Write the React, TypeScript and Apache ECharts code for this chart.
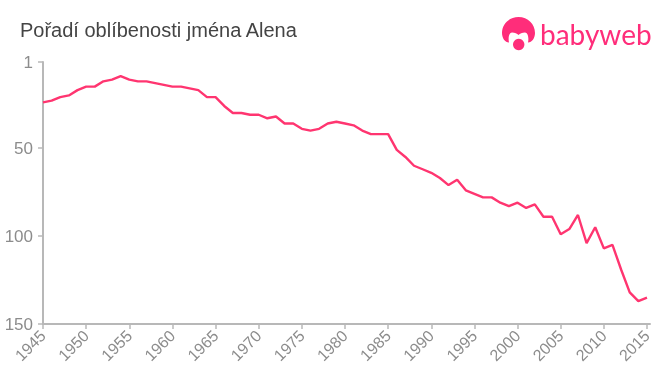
import React, { useEffect, useRef } from "react";
import * as echarts from "echarts";

const years = Array.from({ length: 71 }, (_, i) => String(1945 + i));
const ranks = [
  24, 23, 21, 20, 17, 15, 15, 12, 11, 9,
  11, 12, 12, 13, 14, 15, 15, 16, 17, 21,
  21, 26, 30, 30, 31, 31, 33, 32, 36, 36,
  39, 40, 39, 36, 35, 36, 37, 40, 42, 42,
  42, 51, 55, 60, 62, 64, 67, 71, 68, 74,
  76, 78, 78, 81, 83, 81, 84, 82, 89, 89,
  99, 96, 88, 104, 95, 107, 105, 119, 132, 137,
  135,
];
const yTicks = [1, 50, 100, 150];
const xTicks = [1945, 1950, 1955, 1960, 1965, 1970, 1975, 1980, 1985, 1990, 1995, 2000, 2005, 2010, 2015];
const titleText = "Pořadí oblíbenosti jména Alena";
const logoText = "babyweb";

const headPath =
  "M509 42.5 C505 42.5 502 38 502 33 C502 24 509 17 518.5 17 C528 17 535 24 535 33 C535 38 532 42.5 528 42.5 C529 38 528 32.5 525 32.5 C522 32.5 520 33.5 518.5 35 C517 33.5 515 32.5 512 32.5 C509 32.5 508 38 509 42.5 Z";

export default function App() {
  const ref = useRef<HTMLDivElement>(null);
  useEffect(() => {
    if (!ref.current) return;
    echarts.graphic.registerShape("babyHead", echarts.graphic.extendPath(headPath, {}) as any);
    const chart = echarts.init(ref.current, undefined, { renderer: "svg" });
    const axisColor = "#b8b8b8";
    const labelColor = "#8c8c8c";
    chart.setOption({
      animation: false,
      title: {
        text: titleText,
        left: 20,
        top: 20,
        padding: 0,
        textStyle: { fontFamily: "Liberation Sans", fontSize: 20, fontWeight: "normal", color: "#444444" },
      },
      grid: { left: 43, right: 10, top: 62, bottom: 51, containLabel: false },
      xAxis: {
        type: "value",
        min: 1945,
        max: 2015.35,
        splitLine: { show: false },
        axisLine: { show: true, lineStyle: { color: axisColor, width: 2 } },
        axisTick: { show: true, length: 5, customValues: xTicks, lineStyle: { color: axisColor, width: 1.5 } },
        axisLabel: {
          customValues: xTicks,
          rotate: 45,
          margin: 9,
          color: labelColor,
          fontFamily: "Liberation Sans",
          fontSize: 16,
          formatter: (v: number) => String(v),
          hideOverlap: false,
        },
      },
      yAxis: {
        type: "value",
        inverse: true,
        min: 1,
        max: 150,
        splitLine: { show: false },
        axisLine: { show: true, lineStyle: { color: axisColor, width: 2 } },
        axisTick: { show: true, length: 5, customValues: yTicks, lineStyle: { color: axisColor, width: 1.5 } },
        axisLabel: {
          customValues: yTicks,
          margin: 10,
          color: labelColor,
          fontFamily: "Liberation Sans",
          fontSize: 17,
        },
      },
      series: [
        {
          type: "line",
          data: years.map((y, i) => [Number(y), ranks[i]]),
          showSymbol: false,
          symbol: "none",
          lineStyle: { color: "#ff3570", width: 2.4 },
          silent: true,
        },
      ],
      graphic: [
        { type: "babyHead", style: { fill: "#ff2d7a" } },
        { type: "circle", shape: { cx: 518.7, cy: 44.5, r: 5.7 }, style: { fill: "#ff2d7a" } },
        {
          type: "text",
          x: 540,
          y: 20,
          style: { text: logoText, fontFamily: "Lato", fontSize: 28, fontWeight: "normal", fill: "#ff2d7a" },
        },
      ],
    });
    return () => chart.dispose();
  }, []);
  return <div ref={ref} style={{ position: "fixed", left: 0, top: 0, width: 660, height: 375 }} />;
}
